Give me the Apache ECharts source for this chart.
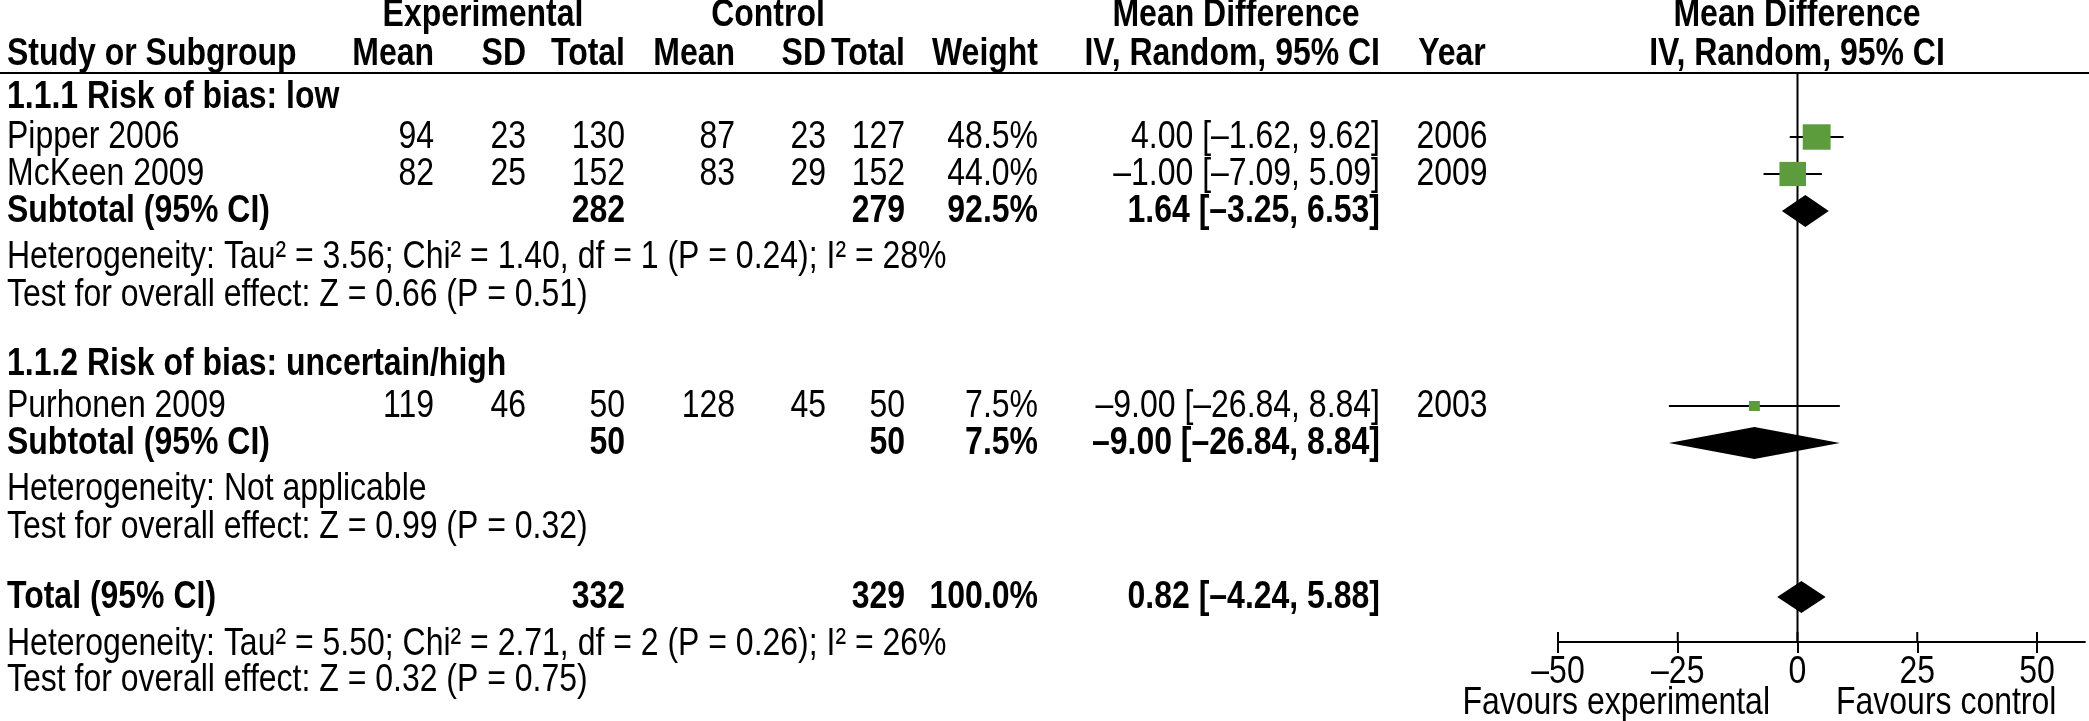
<!DOCTYPE html>
<html>
<head>
<meta charset="utf-8">
<script src="https://cdn.jsdelivr.net/npm/echarts@6/dist/echarts.min.js"></script>
<style>
html,body{margin:0;padding:0;background:#fff;}
#chart{width:2089px;height:721px;}
</style>
</head>
<body>
<div id="chart"></div>
<script>
// ---------------- DATA ----------------
const subgroupNames = ['1.1.1 Risk of bias: low', '1.1.2 Risk of bias: uncertain/high'];
const studyNames = ['Pipper 2006', 'McKeen 2009', 'Purhonen 2009'];
const studyGroup = [0, 0, 1];
const expMean = [94, 82, 119];
const expSD = [23, 25, 46];
const expTotal = [130, 152, 50];
const ctrlMean = [87, 83, 128];
const ctrlSD = [23, 29, 45];
const ctrlTotal = [127, 152, 50];
const studyWeight = [48.5, 44.0, 7.5];
const studyMD = [4.00, -1.00, -9.00];
const studyLow = [-1.62, -7.09, -26.84];
const studyHigh = [9.62, 5.09, 8.84];
const studyYear = [2006, 2009, 2003];

const subExpTotal = [282, 50];
const subCtrlTotal = [279, 50];
const subWeight = [92.5, 7.5];
const subMD = [1.64, -9.00];
const subLow = [-3.25, -26.84];
const subHigh = [6.53, 8.84];
const subHet = ['Heterogeneity: Tau² = 3.56; Chi² = 1.40, df = 1 (P = 0.24); I² = 28%', 'Heterogeneity: Not applicable'];
const subTest = ['Test for overall effect: Z = 0.66 (P = 0.51)', 'Test for overall effect: Z = 0.99 (P = 0.32)'];

const totalExp = 332;
const totalCtrl = 329;
const totalWeight = 100.0;
const totalMD = 0.82;
const totalLow = -4.24;
const totalHigh = 5.88;
const totalHet = 'Heterogeneity: Tau² = 5.50; Chi² = 2.71, df = 2 (P = 0.26); I² = 26%';
const totalTest = 'Test for overall effect: Z = 0.32 (P = 0.75)';

const tickValues = [-50, -25, 0, 25, 50];
const favoursLeft = 'Favours experimental';
const favoursRight = 'Favours control';

// ---------------- LAYOUT / STYLE ----------------
const W = 2089, H = 721;
const FONT = "'Liberation Sans', Arial, Helvetica, sans-serif";
const FS = 39;          // font size
const SX = 0.82;        // horizontal squeeze to mimic a condensed face
const COLS = {
  label: {x: 7, align: 'left'},
  eMean: {x: 434, align: 'right'}, eSD: {x: 526, align: 'right'}, eN: {x: 625, align: 'right'},
  cMean: {x: 735, align: 'right'}, cSD: {x: 826, align: 'right'}, cN: {x: 905, align: 'right'},
  weight: {x: 1038, align: 'right'}, ci: {x: 1380, align: 'right'}, year: {x: 1452, align: 'center'},
  plotHead: {x: 1797, align: 'center'},
  expHead: {x: 483, align: 'center'}, ctrlHead: {x: 768, align: 'center'}, mdHead: {x: 1236, align: 'center'},
  favL: {x: 1770, align: 'right'}, favR: {x: 1836, align: 'left'}
};
const ROWY = {
  h1: 15, h2: 54, rule: 73,
  groups: [
    {head: 97, studies: [137, 174], sub: 211, het: 257, test: 295},
    {head: 364, studies: [406], sub: 443, het: 489, test: 527}
  ],
  total: 597, totHet: 644, totTest: 680, fav: 703
};
const PLOT = {left: 1558, axisY: 642, xMin: -50, xMax: 60, pxPerUnit: 4.79, tickUp: 10, labelDy: 30};

// ---------------- HELPERS ----------------
function num(v, d) {
  const s = Math.abs(v).toFixed(d);
  return v < 0 ? '–' + s : s;
}
function ciText(m, lo, hi) { return num(m, 2) + ' [' + num(lo, 2) + ', ' + num(hi, 2) + ']'; }
function textEl(x, y, text, bold, align) {
  return {type: 'text', x: x, y: y, scaleX: SX, scaleY: 1, style: {
    text: text, x: 0, y: 0, fill: '#000', fontSize: FS, fontFamily: FONT,
    fontWeight: bold ? 'bold' : 'normal', align: align, verticalAlign: 'middle'
  }};
}

// ---------------- TABLE TEXT ----------------
const items = [];
function add(col, y, text, bold) { items.push({col: col, y: y, text: String(text), bold: !!bold}); }

add('expHead', ROWY.h1, 'Experimental', true);
add('ctrlHead', ROWY.h1, 'Control', true);
add('mdHead', ROWY.h1, 'Mean Difference', true);
add('plotHead', ROWY.h1, 'Mean Difference', true);
add('label', ROWY.h2, 'Study or Subgroup', true);
add('eMean', ROWY.h2, 'Mean', true); add('eSD', ROWY.h2, 'SD', true); add('eN', ROWY.h2, 'Total', true);
add('cMean', ROWY.h2, 'Mean', true); add('cSD', ROWY.h2, 'SD', true); add('cN', ROWY.h2, 'Total', true);
add('weight', ROWY.h2, 'Weight', true); add('ci', ROWY.h2, 'IV, Random, 95% CI', true);
add('year', ROWY.h2, 'Year', true); add('plotHead', ROWY.h2, 'IV, Random, 95% CI', true);

const studyY = [];
subgroupNames.forEach(function (g, gi) {
  const R = ROWY.groups[gi];
  add('label', R.head, g, true);
  let k = 0;
  studyNames.forEach(function (s, i) {
    if (studyGroup[i] !== gi) return;
    const y = R.studies[k++];
    studyY[i] = y;
    add('label', y, s);
    add('eMean', y, expMean[i]); add('eSD', y, expSD[i]); add('eN', y, expTotal[i]);
    add('cMean', y, ctrlMean[i]); add('cSD', y, ctrlSD[i]); add('cN', y, ctrlTotal[i]);
    add('weight', y, studyWeight[i].toFixed(1) + '%');
    add('ci', y, ciText(studyMD[i], studyLow[i], studyHigh[i]));
    add('year', y, studyYear[i]);
  });
  add('label', R.sub, 'Subtotal (95% CI)', true);
  add('eN', R.sub, subExpTotal[gi], true);
  add('cN', R.sub, subCtrlTotal[gi], true);
  add('weight', R.sub, subWeight[gi].toFixed(1) + '%', true);
  add('ci', R.sub, ciText(subMD[gi], subLow[gi], subHigh[gi]), true);
  add('label', R.het, subHet[gi]);
  add('label', R.test, subTest[gi]);
});
add('label', ROWY.total, 'Total (95% CI)', true);
add('eN', ROWY.total, totalExp, true);
add('cN', ROWY.total, totalCtrl, true);
add('weight', ROWY.total, totalWeight.toFixed(1) + '%', true);
add('ci', ROWY.total, ciText(totalMD, totalLow, totalHigh), true);
add('label', ROWY.totHet, totalHet);
add('label', ROWY.totTest, totalTest);
add('favL', ROWY.fav, favoursLeft);
add('favR', ROWY.fav, favoursRight);

// ---------------- FOREST DATA ----------------
const studyData = studyNames.map(function (s, i) {
  return [studyMD[i], studyLow[i], studyHigh[i], studyY[i], studyWeight[i]];
});
const diamondData = subMD.map(function (m, gi) {
  return [m, subLow[gi], subHigh[gi], ROWY.groups[gi].sub];
});
diamondData.push([totalMD, totalLow, totalHigh, ROWY.total]);

const chart = echarts.init(document.getElementById('chart'), null, {renderer: 'canvas'});
const option = {
  backgroundColor: '#fff',
  animation: false,
  grid: [
    {left: 0, top: 0, width: W, height: H},
    {left: PLOT.left, top: 0, width: (PLOT.xMax - PLOT.xMin) * PLOT.pxPerUnit, height: PLOT.axisY}
  ],
  xAxis: [
    {gridIndex: 0, type: 'value', min: 0, max: W, show: false, axisLine: {onZero: false}},
    {gridIndex: 1, type: 'value', min: PLOT.xMin, max: PLOT.xMax, interval: 25, position: 'bottom',
      splitLine: {show: false},
      axisLine: {show: true, onZero: false, lineStyle: {color: '#000', width: 2}},
      axisTick: {show: true, inside: false, length: 11, lineStyle: {color: '#000', width: 2}, customValues: tickValues},
      axisLabel: {show: false}
    }
  ],
  yAxis: [
    {gridIndex: 0, type: 'value', min: 0, max: H, inverse: true, show: false, axisLine: {onZero: false}},
    {gridIndex: 1, type: 'value', min: 0, max: PLOT.axisY, inverse: true, show: false, axisLine: {onZero: false}}
  ],
  series: [
    // header rule
    {type: 'custom', xAxisIndex: 0, yAxisIndex: 0, silent: true, clip: false,
      data: [[0, ROWY.rule, W]],
      renderItem: function (params, api) {
        const a = api.coord([api.value(0), api.value(1)]);
        const b = api.coord([api.value(2), api.value(1)]);
        return {type: 'line', shape: {x1: a[0], y1: a[1], x2: b[0], y2: b[1]}, style: {stroke: '#000', lineWidth: 2}};
      }
    },
    // table text
    {type: 'custom', xAxisIndex: 0, yAxisIndex: 0, silent: true, clip: false,
      data: items.map(function (it) { return [COLS[it.col].x, it.y]; }),
      renderItem: function (params, api) {
        const it = items[params.dataIndex];
        const p = api.coord([api.value(0), api.value(1)]);
        return textEl(p[0], p[1], it.text, it.bold, COLS[it.col].align);
      }
    },
    // zero line
    {type: 'custom', xAxisIndex: 1, yAxisIndex: 1, silent: true, clip: false,
      data: [[0, ROWY.rule, PLOT.axisY]],
      renderItem: function (params, api) {
        const a = api.coord([api.value(0), api.value(1)]);
        const b = api.coord([api.value(0), api.value(2)]);
        return {type: 'line', shape: {x1: a[0], y1: a[1], x2: b[0], y2: b[1]}, style: {stroke: '#000', lineWidth: 2}};
      }
    },
    // upper halves of axis ticks + tick labels
    {type: 'custom', xAxisIndex: 1, yAxisIndex: 1, silent: true, clip: false,
      data: tickValues.map(function (v) { return [v, PLOT.axisY]; }),
      renderItem: function (params, api) {
        const v = api.value(0);
        const a = api.coord([v, api.value(1)]);
        return {type: 'group', children: [
          {type: 'line', shape: {x1: a[0], y1: a[1], x2: a[0], y2: a[1] - PLOT.tickUp}, style: {stroke: '#000', lineWidth: 2}},
          textEl(a[0], a[1] + PLOT.labelDy, num(v, 0), false, 'center')
        ]};
      }
    },
    // studies
    {type: 'custom', xAxisIndex: 1, yAxisIndex: 1, silent: true, clip: false,
      data: studyData,
      renderItem: function (params, api) {
        const c = api.coord([api.value(0), api.value(3)]);
        const lo = api.coord([api.value(1), api.value(3)]);
        const hi = api.coord([api.value(2), api.value(3)]);
        const s = Math.sqrt(api.value(4));
        const w = 4.0 * s, h = 3.65 * s;
        return {type: 'group', children: [
          {type: 'line', shape: {x1: lo[0], y1: lo[1], x2: hi[0], y2: hi[1]}, style: {stroke: '#000', lineWidth: 2}},
          {type: 'rect', shape: {x: c[0] - w / 2, y: c[1] - h / 2, width: w, height: h}, style: {fill: '#5c9c3c'}}
        ]};
      }
    },
    // diamonds
    {type: 'custom', xAxisIndex: 1, yAxisIndex: 1, silent: true, clip: false,
      data: diamondData,
      renderItem: function (params, api) {
        const c = api.coord([api.value(0), api.value(3)]);
        const lo = api.coord([api.value(1), api.value(3)]);
        const hi = api.coord([api.value(2), api.value(3)]);
        const hh = 16;
        return {type: 'polygon', shape: {points: [[lo[0], c[1]], [c[0], c[1] - hh], [hi[0], c[1]], [c[0], c[1] + hh]]},
          style: {fill: '#000'}};
      }
    }
  ]
};
chart.setOption(option);
</script>
</body>
</html>
